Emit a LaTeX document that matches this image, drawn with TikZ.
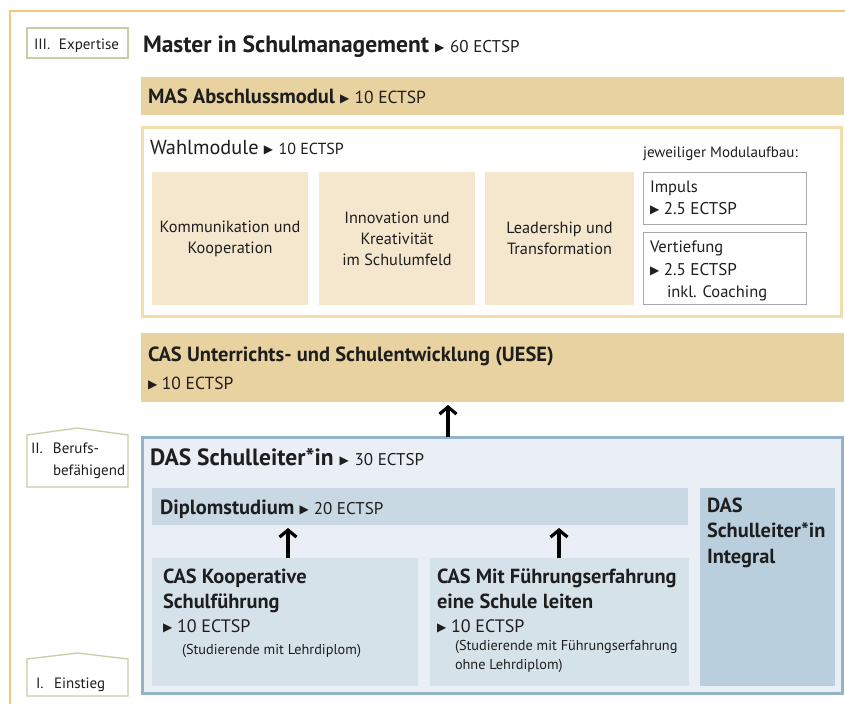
\documentclass[tikz,border=0pt]{standalone}
\usepackage{fontspec}
\setmainfont{PT Sans}
\newfontfamily\symf{DejaVu Sans}
\usetikzlibrary{arrows.meta}
\definecolor{framegold}{HTML}{F0C97E}
\definecolor{bandgold}{HTML}{E8D29F}
\definecolor{wahlline}{HTML}{F3DDAA}
\definecolor{tanfill}{HTML}{F5E7CE}
\definecolor{labline}{HTML}{C5CFA6}
\definecolor{grayline}{HTML}{A8A8A8}
\definecolor{dasfill}{HTML}{EAEFF6}
\definecolor{dasline}{HTML}{92B3CA}
\definecolor{diplfill}{HTML}{C9D9E3}
\definecolor{intfill}{HTML}{B9CFDD}
\definecolor{casfill}{HTML}{D6E2EA}
\definecolor{ink}{HTML}{1E1E1E}
\newcommand\tri{\raisebox{0.4pt}{\symf\fontsize{12}{12}\selectfont ▶}}
\newcommand\ects[2][16]{{\mdseries\fontsize{#1}{18}\selectfont #2}}
\newcommand\fs[2]{\fontsize{#1}{#2}\selectfont}
\begin{document}
\begin{tikzpicture}[x=1pt,y=-1pt,
  every node/.style={inner sep=0pt, outer sep=0pt, text=ink},
  box/.style={anchor=north west},
  txt/.style={anchor=base west},
  uparrow/.style={line width=3.2pt, -{Straight Barb[length=7pt,width=17pt]}, shorten >=3pt},
  levelline/.style={draw=labline, line width=1.3pt, fill=white},
  headA/.style={font=\bfseries\fs{20.5}{24}},
  casfont/.style={font=\bfseries\fs{20.4}{24}},
  subtext/.style={font=\fs{16.5}{18}},
  ectstext/.style={font=\fs{18}{18}},
  smalltext/.style={font=\fs{14.3}{16}},
  modtext/.style={font=\fs{16.3}{21}, align=center},
  lvltext/.style={font=\fs{15}{17}},
]
\useasboundingbox (0,0) rectangle (845,704);
\fill[white] (0,0) rectangle (845,704);
\draw[framegold, line width=2pt] (845,11) -- (10,11) -- (10,704);

% level labels
\node[box, levelline, minimum width=101, minimum height=30] (l3) at (27,28) {};
\node[txt, lvltext] (l3t) at (34,49) {\makebox[25pt][l]{III.}Expertise};
\draw[levelline] (27,435) coordinate (l2a) -- (77.5,428) -- (128,435) -- (128,487) -- (27,487) -- cycle;
\node[txt, lvltext] (l2t) at (31,453) {\makebox[22pt][l]{II.}Berufs-};
\node[txt, lvltext] (l2u) at (53,475) {befähigend};
\draw[levelline] (27,659) coordinate (l1a) -- (77.5,653) -- (128,659) -- (128,696) -- (27,696) -- cycle;
\node[txt, lvltext] (l1t) at (36,688) {\makebox[18pt][l]{I.}Einstieg};

% title
\node[txt, font=\bfseries\fs{23.5}{26}] (title) at (143,52) {Master in Schulmanagement \tri\ \ects[17]{60 ECTSP}};

% MAS
\node[box, fill=bandgold, minimum width=703, minimum height=38] (mas) at (141,77) {};
\node[txt, headA] (mast) at (148,103) {MAS Abschlussmodul \tri\ \ects[17.5]{10 ECTSP}};

% Wahlmodule
\node[box, draw=wahlline, line width=2.5pt, fill=white, minimum width=699, minimum height=189] (wahl) at (142.25,127.25) {};
\node[txt, font=\fs{20.3}{22}] (wahlt) at (150,154) {Wahlmodule \tri\ \ects[16]{10 ECTSP}};
\node[box, fill=tanfill, minimum width=156, minimum height=133, modtext] (m1) at (152,172) {Kommunikation und\\Kooperation};
\node[box, fill=tanfill, minimum width=156, minimum height=133, modtext] (m2) at (319,172) {Innovation und\\Kreativität\\im Schulumfeld};
\node[box, fill=tanfill, minimum width=149, minimum height=133, modtext] (m3) at (485,172) {Leadership und\\Transformation};
\node[txt, font=\fs{15}{16}] (jew) at (643,157) {jeweiliger Modulaufbau:};
\node[box, draw=grayline, line width=0.9pt, minimum width=163, minimum height=52] (imp) at (643.5,172.5) {};
\node[txt, subtext] (impt) at (650,192) {Impuls};
\node[txt, font=\fs{17}{18}] (impe) at (650,214) {\tri\ 2.5 ECTSP};
\node[box, draw=grayline, line width=0.9pt, minimum width=163, minimum height=72] (vert) at (643.5,232.5) {};
\node[txt, subtext] (vertt) at (650,252) {Vertiefung};
\node[txt, font=\fs{17}{18}] (verte) at (650,275) {\tri\ 2.5 ECTSP};
\node[txt, subtext] (vertc) at (667,297) {inkl. Coaching};

% UESE
\node[box, fill=bandgold, minimum width=703, minimum height=69] (uese) at (141,333) {};
\node[txt, font=\bfseries\fs{20.5}{22}] (ueset) at (148,361) {CAS Unterrichts- und Schulentwicklung (UESE)};
\node[txt, font=\fs{17.5}{18}] (uesee) at (148,389) {\tri\ 10 ECTSP};

% DAS
\node[box, fill=dasfill, draw=dasline, line width=2.5pt, minimum width=700, minimum height=256] (das) at (142.25,437.25) {};
\node[txt, font=\bfseries\fs{23.5}{26}] (dast) at (150,465) {DAS Schulleiter*in \tri\ \ects[17]{30 ECTSP}};
\node[box, fill=diplfill, minimum width=536, minimum height=37] (dipl) at (152,488) {};
\node[txt, font=\bfseries\fs{20.5}{22}] (diplt) at (160,514) {Diplomstudium \tri\ \ects[17]{20 ECTSP}};
\node[box, fill=intfill, minimum width=135, minimum height=198] (integ) at (700,488) {};
\node[txt, casfont] (int1) at (707,512) {DAS};
\node[txt, casfont] (int2) at (707,537) {Schulleiter*in};
\node[txt, casfont] (int3) at (707,563) {Integral};

\node[box, fill=casfill, minimum width=266, minimum height=128] (casK) at (152,558) {};
\node[txt, casfont] (k1) at (163,583) {CAS Kooperative};
\node[txt, casfont] (k2) at (163,608) {Schulführung};
\node[txt, ectstext] (k3) at (163,632) {\tri\ 10 ECTSP};
\node[txt, smalltext] (k4) at (182,654) {(Studierende mit Lehrdiplom)};

\node[box, fill=casfill, minimum width=259, minimum height=128] (casM) at (430,558) {};
\node[txt, casfont] (c1) at (437,583) {CAS Mit Führungserfahrung};
\node[txt, casfont] (c2) at (437,608) {eine Schule leiten};
\node[txt, ectstext] (c3) at (437,632) {\tri\ 10 ECTSP};
\node[txt, smalltext] (c4) at (455,650) {(Studierende mit Führungserfahrung};
\node[txt, smalltext] (c5) at (455,669) {ohne Lehrdiplom)};

% arrows
\coordinate (a1) at (448,0);
\coordinate (a2) at (288,0);
\coordinate (a3) at (559,0);
\draw[uparrow] (a1 |- das.north) -- (a1 |- uese.south);
\draw[uparrow] (a2 |- casK.north) -- (a2 |- dipl.south);
\draw[uparrow] (a3 |- casM.north) -- (a3 |- dipl.south);
\end{tikzpicture}
\end{document}
